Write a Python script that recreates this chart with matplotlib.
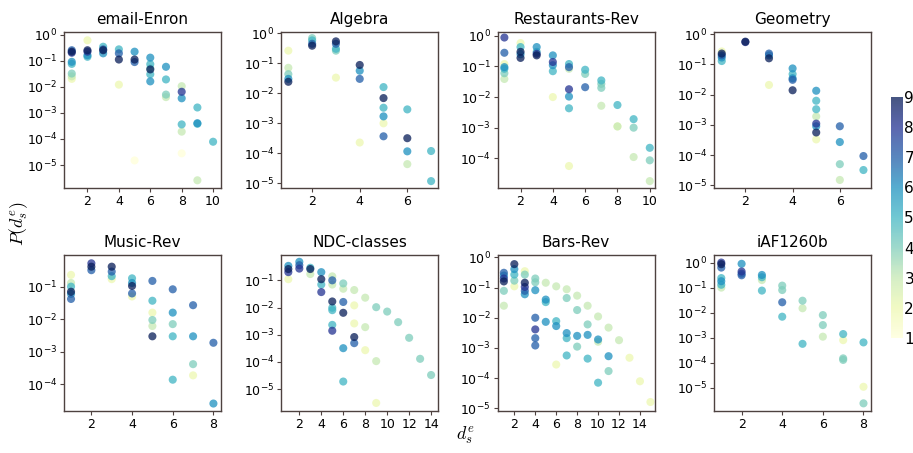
import numpy as np
import matplotlib
matplotlib.use("Agg")
import matplotlib.pyplot as plt
from matplotlib.ticker import FixedLocator, NullLocator, LogFormatterSciNotation

plt.rcParams['mathtext.fontset'] = 'cm'
plt.rcParams['font.family'] = ['DejaVu Sans']

# ---------------- data ----------------
titles = ["email-Enron", "Algebra", "Restaurants-Rev", "Geometry",
          "Music-Rev", "NDC-classes", "Bars-Rev", "iAF1260b"]

enron_x = [1, 1, 1, 1, 1, 1, 1, 1, 2, 2, 2, 2, 2, 3, 3, 3, 3, 4, 4, 4, 4, 5, 5, 5, 5,
           6, 6, 6, 6, 6, 6, 7, 7, 7, 7, 8, 8, 8, 8, 8, 8, 9, 9, 9, 9, 10]
enron_y = [0.25, 0.22, 0.2, 0.09, 0.075, 0.032, 0.025, 0.02,
           0.6, 0.25, 0.22, 0.16, 0.14,
           0.34, 0.27, 0.25, 0.19,
           0.27, 0.19, 0.11, 0.012,
           0.22, 0.11, 0.088, 1.5e-5,
           0.13, 0.073, 0.046, 0.03, 0.016, 0.05,
           0.058, 0.019, 0.005, 0.004,
           0.0105, 0.0064, 0.0036, 0.00036, 0.00019, 2.8e-5,
           0.0016, 0.0004, 0.00038, 2.6e-6,
           7.8e-5]
enron_c = [7, 9, 8, 6, 5, 4, 3, 2,
           2, 9, 8, 6, 5,
           5, 7, 9, 6,
           5, 7, 9, 2,
           6, 9, 7, 1,
           6, 5, 9, 5, 6, 4,
           6, 5, 4, 3,
           3, 8, 6, 5, 3, 1,
           5, 6, 5, 3,
           5]

algebra_x = [1, 1, 1, 1, 1, 2, 2, 2, 2, 3, 3, 3, 3, 3, 4, 4, 4, 4,
             5, 5, 5, 5, 5, 5, 6, 6, 6, 6, 7, 7]
algebra_y = [0.024, 0.03, 0.043, 0.07, 0.26,
             0.68, 0.57, 0.44, 0.38,
             0.53, 0.44, 0.3, 0.26, 0.033,
             0.087, 0.056, 0.03, 0.00023,
             0.016, 0.0069, 0.0033, 0.0017, 0.001, 0.00037,
             0.0029, 0.00032, 0.000117, 4.4e-5,
             0.00012, 1.2e-5]
algebra_c = [9, 6, 4, 3, 2,
             4, 5, 7, 9,
             9, 7, 5, 4, 2,
             9, 6, 7, 2,
             5, 9, 5, 6, 2, 7,
             5, 9, 6, 3,
             5, 5]

rest_x = [1, 1, 1, 1, 1, 1, 1, 2, 2, 2, 2, 2, 3, 3, 3, 3, 4, 4, 4, 4, 4,
          5, 5, 5, 5, 5, 5, 5, 6, 6, 6, 7, 7, 7, 7, 8, 8, 8, 9, 9, 9, 10, 10, 10]
rest_y = [0.88, 0.28, 0.095, 0.084, 0.06, 0.039, 0.12,
          0.58, 0.43, 0.3, 0.25, 0.19,
          0.43, 0.3, 0.26, 0.23,
          0.23, 0.14, 0.11, 0.07, 0.01,
          0.12, 0.095, 0.084, 0.018, 0.0104, 0.0043, 5.6e-5,
          0.078, 0.057, 0.021,
          0.035, 0.027, 0.02, 0.0052,
          0.0055, 0.0011, 0.0011,
          0.0019, 0.001, 0.00011,
          0.00022, 8.6e-5, 1.8e-5]
rest_c = [8, 7, 6, 5, 4, 3, 2,
          2, 5, 9, 6, 9,
          6, 5, 8, 9,
          6, 8, 6, 5, 2,
          5, 7, 3, 8, 6, 5, 2,
          5, 4, 7,
          5, 4, 4, 3,
          5, 3, 2,
          5, 4, 3,
          5, 4, 3]

geom_x = [1, 1, 1, 1, 1, 2, 2, 3, 3, 3, 3, 4, 4, 4, 4, 4,
          5, 5, 5, 5, 5, 5, 5, 5, 6, 6, 6, 6, 7, 7]
geom_y = [0.27, 0.23, 0.2, 0.17, 0.13,
          0.57, 0.55,
          0.23, 0.2, 0.16, 0.021,
          0.074, 0.048, 0.035, 0.031, 0.014,
          0.0135, 0.0063, 0.0033, 0.0019, 0.0011, 0.0009, 0.00056, 0.00033,
          0.0009, 0.00027, 5e-5, 1.5e-5,
          9.3e-5, 3.2e-5]
geom_c = [2, 9, 7, 6, 5,
          9, 8,
          7, 6, 9, 2,
          6, 5, 6, 7, 9,
          6, 5, 5, 3, 8, 6, 9, 2,
          7, 6, 4, 3,
          7, 5]

music_x = [1, 1, 1, 1, 1, 1, 2, 2, 2, 3, 3, 3, 3, 4, 4, 4, 4, 4,
           5, 5, 5, 5, 5, 5, 6, 6, 6, 6, 6, 7, 7, 7, 7, 8, 8]
music_y = [0.23, 0.13, 0.1, 0.07, 0.06, 0.042,
           0.52, 0.41, 0.32,
           0.41, 0.29, 0.21, 0.17,
           0.18, 0.13, 0.105, 0.062, 0.05,
           0.15, 0.037, 0.016, 0.0095, 0.0062, 0.003,
           0.083, 0.016, 0.0071, 0.003, 0.00014,
           0.027, 0.003, 0.00042, 0.00019,
           0.0019, 2.6e-5]
music_c = [2, 3, 5, 9, 6, 7,
           8, 9, 7,
           9, 7, 5, 2,
           5, 6, 9, 7, 2,
           7, 5, 2, 4, 3, 9,
           7, 6, 4, 5, 5,
           7, 6, 4, 2,
           7, 6]

ndc_x = [1, 1, 1, 1, 2, 2, 2, 3, 3, 3, 4, 4, 4, 4,
         5, 5, 5, 5, 5, 5, 5, 5, 6, 6, 6, 6, 6, 6,
         7, 7, 7, 7, 7, 8, 8, 8, 9, 9, 9, 10, 11, 12, 13, 14]
ndc_y = [0.34, 0.26, 0.2, 0.11,
         0.48, 0.36, 0.27,
         0.29, 0.26, 0.17,
         0.2, 0.11, 0.07, 0.037,
         0.14, 0.1, 0.07, 0.0167, 0.0098, 0.008, 0.0023, 0.0014,
         0.077, 0.049, 0.016, 0.0064, 0.00032, 1.9e-5,
         0.044, 0.012, 0.0026, 0.00082, 0.00049,
         0.023, 0.0019, 0.00027,
         0.0103, 0.000107, 3.1e-6,
         0.0071, 0.0029, 0.00077, 0.00013, 3.3e-5]
ndc_c = [6, 9, 8, 2,
         6, 7, 8,
         5, 9, 3,
         6, 9, 5, 8,
         3, 7, 3, 9, 5, 5, 5, 8,
         4, 3, 7, 9, 6, 5,
         3, 2, 2, 9, 7,
         3, 3, 2,
         4, 3, 2,
         4, 4, 4, 4, 4]

bars_x = [1, 1, 1, 1, 1, 1, 2, 2, 2, 2, 2, 3, 3, 3, 3, 3, 3,
          4, 4, 4, 4, 4, 4, 4, 5, 5, 5, 5, 6, 6, 6, 6,
          7, 7, 7, 7, 7, 8, 8, 8, 8, 9, 9, 9, 9, 10, 10, 10, 10,
          11, 11, 11, 12, 13, 14, 15]
bars_y = [0.31, 0.25, 0.2, 0.16, 0.078, 0.025,
          0.6, 0.41, 0.27, 0.17, 0.11,
          0.35, 0.27, 0.145, 0.105, 0.078, 0.06,
          0.2, 0.15, 0.082, 0.01, 0.0041, 0.0021, 0.0012,
          0.145, 0.04, 0.033, 0.0073,
          0.11, 0.0077, 0.0053, 0.00028,
          0.088, 0.045, 0.0031, 0.0021, 0.00056,
          0.054, 0.018, 0.0025, 0.0011,
          0.025, 0.006, 0.0027, 0.00044,
          0.011, 0.0019, 0.0016, 7e-5,
          0.0047, 0.00053, 0.00017,
          0.0018, 0.00047, 7.8e-5, 1.6e-5]
bars_c = [7, 6, 8, 9, 4, 3,
          9, 6, 5, 4, 2,
          2, 4, 9, 8, 7, 6,
          4, 4, 6, 7, 8, 7, 7,
          3, 6, 5, 6,
          3, 5, 6, 2,
          3, 4, 6, 5, 5,
          3, 4, 6, 4,
          3, 4, 6, 5,
          3, 6, 3, 5,
          3, 6, 4,
          3, 2, 2, 2]

iaf_x = [1, 1, 1, 1, 1, 1, 1, 2, 2, 2, 2, 3, 3, 3, 3, 4, 4, 4, 4,
         5, 5, 5, 6, 6, 6, 7, 7, 7, 7, 8, 8, 8]
iaf_y = [1.0, 0.86, 0.63, 0.24, 0.18, 0.13, 0.1,
         0.89, 0.44, 0.36, 0.31,
         0.32, 0.26, 0.2, 0.076,
         0.12, 0.08, 0.026, 0.0069,
         0.03, 0.015, 0.00057,
         0.008, 0.0032, 0.0011,
         0.0014, 0.0008, 0.00015, 0.00013,
         0.00065, 1.1e-5, 2.4e-6]
iaf_c = [8, 9, 7, 5, 6, 5, 3,
         6, 8, 7, 7,
         6, 5, 3, 5,
         4, 4, 7, 5,
         4, 3, 5,
         4, 4, 3,
         5, 2, 4, 4,
         5, 2, 4]

panel_x = [enron_x, algebra_x, rest_x, geom_x, music_x, ndc_x, bars_x, iaf_x]
panel_y = [enron_y, algebra_y, rest_y, geom_y, music_y, ndc_y, bars_y, iaf_y]
panel_c = [enron_c, algebra_c, rest_c, geom_c, music_c, ndc_c, bars_c, iaf_c]

x_limits = [(0.5, 10.5), (0.7, 7.3), (0.58, 10.3), (0.67, 7.32),
            (0.65, 8.37), (0.35, 14.65), (0.4, 15.4), (0.64, 8.37)]
y_limits = [(10**-5.88, 10**0.09), (10**-5.15, 10**0.03), (10**-4.97, 10**0.12),
            (10**-5.09, 10**0.07), (10**-4.81, 10**-0.03), (10**-5.8, 10**-0.07),
            (10**-5.09, 10**0.08), (10**-5.92, 10**0.3)]

# ---------------- figure ----------------
fig = plt.figure(figsize=(9.13, 4.53), dpi=100)
lefts = [0.070, 0.308, 0.545, 0.782]
bottoms = [0.585, 0.093]
w, h = 0.172, 0.344
spine_col = '#4e4240'
cmap = plt.get_cmap('YlGnBu')

sc = None
for i in range(8):
    r, col = divmod(i, 4)
    ax = fig.add_axes([lefts[col], bottoms[r], w, h])
    x = np.array(panel_x[i], dtype=float)
    y = np.array(panel_y[i], dtype=float)
    c = np.array(panel_c[i], dtype=float)
    order = np.argsort(c, kind='stable')
    sc = ax.scatter(x[order], y[order], c=c[order], cmap=cmap, vmin=1, vmax=9,
                    s=34, alpha=0.75, linewidths=0)
    ax.set_yscale('log')
    ax.set_xlim(*x_limits[i])
    ax.set_ylim(*y_limits[i])
    lo, hi = np.log10(y_limits[i])
    decades = [10.0**k for k in range(int(np.ceil(lo - 1e-9)), int(np.floor(hi + 1e-9)) + 1)]
    ax.yaxis.set_major_locator(FixedLocator(decades))
    ax.yaxis.set_major_formatter(LogFormatterSciNotation())
    ax.yaxis.set_minor_locator(NullLocator())
    xt = [t for t in range(2, 16, 2) if x_limits[i][0] <= t <= x_limits[i][1]]
    ax.set_xticks(xt)
    ax.tick_params(labelsize=9, length=3, width=0.8, color=spine_col, pad=2)
    for s in ax.spines.values():
        s.set_color(spine_col)
        s.set_linewidth(1.0)
    ax.set_title(titles[i], fontsize=11, pad=6)

cax = fig.add_axes([0.976, 0.254, 0.013, 0.532])
cb = fig.colorbar(sc, cax=cax, ticks=range(1, 10))
cb.outline.set_visible(False)
cb.ax.tick_params(labelsize=11, length=0, pad=1)

fig.text(0.02, 0.505, r'$P(d^e_s)$', rotation=90, fontsize=13, ha='center', va='center')
fig.text(0.51, 0.04, r'$d^e_s$', fontsize=13, ha='center', va='center')

fig.savefig('out.png', dpi=100)
